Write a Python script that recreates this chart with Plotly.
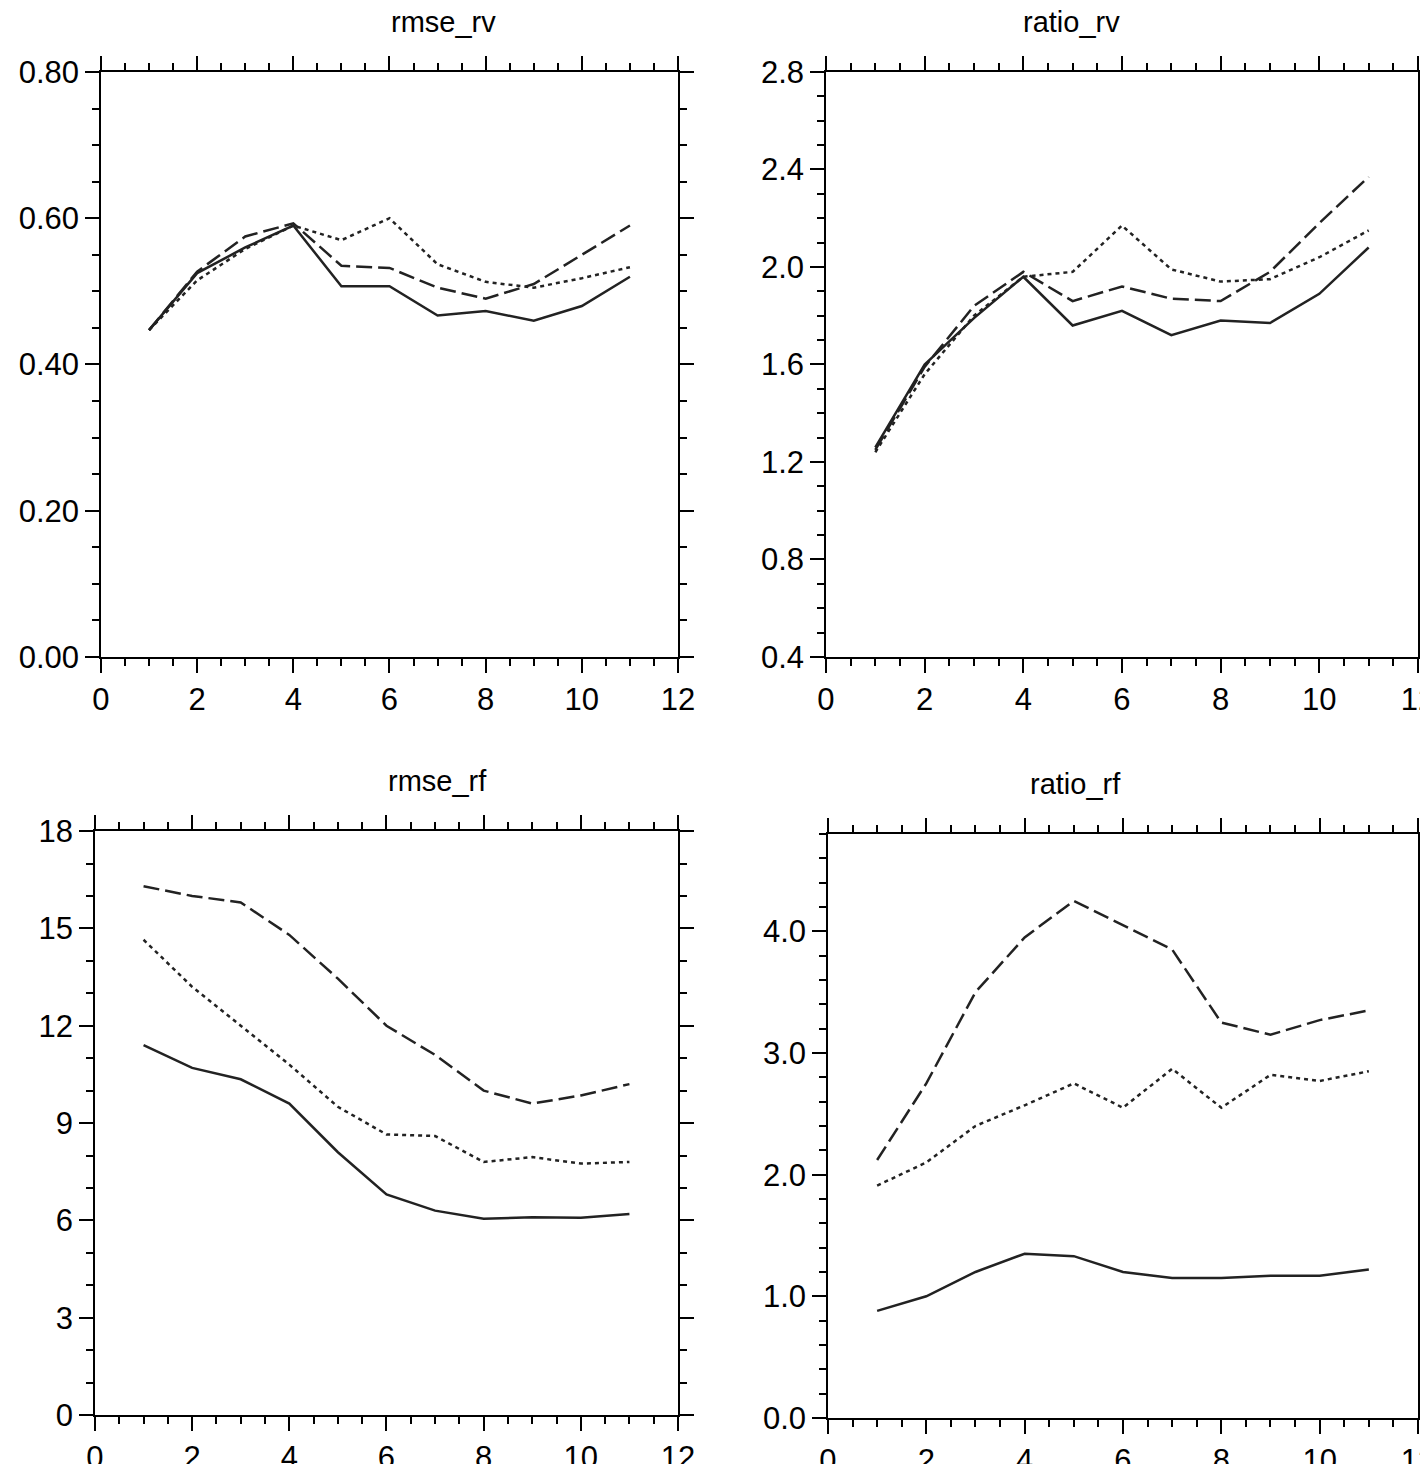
import plotly.graph_objects as go

x = list(range(1, 12))
rmse_rv = {
    "solid": [0.447,0.525,0.56,0.59,0.507,0.507,0.467,0.473,0.46,0.48,0.52],
    "dash": [0.447,0.527,0.575,0.593,0.535,0.532,0.505,0.49,0.51,0.55,0.59],
    "dot": [0.447,0.515,0.558,0.59,0.57,0.60,0.537,0.513,0.505,0.518,0.533],
}
ratio_rv = {
    "solid": [1.26,1.6,1.79,1.96,1.76,1.82,1.72,1.78,1.77,1.89,2.08],
    "dash": [1.25,1.59,1.84,1.98,1.86,1.92,1.87,1.86,1.98,2.18,2.37],
    "dot": [1.24,1.56,1.80,1.96,1.98,2.17,1.99,1.94,1.95,2.04,2.15],
}
rmse_rf = {
    "solid": [11.4,10.7,10.35,9.6,8.1,6.8,6.3,6.05,6.1,6.08,6.2],
    "dash": [16.3,16.0,15.8,14.8,13.45,12.0,11.1,10.0,9.6,9.85,10.2],
    "dot": [14.65,13.2,12.0,10.8,9.5,8.65,8.6,7.8,7.95,7.75,7.8],
}
ratio_rf = {
    "solid": [0.88,1.0,1.2,1.35,1.33,1.2,1.15,1.15,1.17,1.17,1.22],
    "dash": [2.12,2.75,3.5,3.95,4.25,4.05,3.85,3.25,3.15,3.27,3.35],
    "dot": [1.91,2.1,2.4,2.57,2.75,2.55,2.87,2.55,2.82,2.77,2.85],
}

panels = [
    ("rmse_rv", rmse_rv, [0.0651, 0.4692], [0.5567, 0.9563], [0, 0.8], 0.2, 0.05, ".2f"),
    ("ratio_rv", ratio_rv, [0.5728, 0.9874], [0.5567, 0.9563], [0.4, 2.8], 0.4, 0.1, ".1f"),
    ("rmse_rf", rmse_rf, [0.0609, 0.4692], [0.0389, 0.4378], [0, 18], 3, 1, "d"),
    ("ratio_rf", ratio_rf, [0.5742, 0.9874], [0.0369, 0.4358], [0, 4.8], 1.0, 0.2, ".1f"),
]
dashmap = {"solid": "solid", "dash": "16px,6px", "dot": "4px,4px"}

fig = go.Figure()
font = dict(family="Liberation Sans, Arial", size=31, color="black")
tfont = dict(family="Liberation Sans, Arial", size=29, color="black")
for i, (title, data, xd, yd, yr, dt, mdt, fmt) in enumerate(panels, start=1):
    xa = "x" if i == 1 else f"x{i}"
    ya = "y" if i == 1 else f"y{i}"
    for k in ["solid", "dash", "dot"]:
        fig.add_trace(go.Scatter(x=x, y=data[k], mode="lines", xaxis=xa, yaxis=ya,
                                 line=dict(color="#222", width=2.5, dash=dashmap[k]),
                                 showlegend=False))
    common = dict(showline=True, linecolor="black", linewidth=1.5, mirror="ticks",
                  ticks="outside", ticklen=14, tickwidth=1.5, tickcolor="black",
                  showgrid=False, zeroline=False, tickfont=font, automargin=False)
    fig.update_layout(**{
        ("xaxis" if i == 1 else f"xaxis{i}"): dict(domain=xd, range=[0, 12], dtick=2, tick0=0,
            anchor=ya, minor=dict(dtick=0.5, ticks="outside", ticklen=7, tickcolor="black"), **common),
        ("yaxis" if i == 1 else f"yaxis{i}"): dict(domain=yd, range=yr, dtick=dt, tick0=0,
            anchor=xa, tickformat=fmt, minor=dict(dtick=mdt, ticks="outside", ticklen=7, tickcolor="black"), **common),
    })
    fig.add_annotation(text=title, x=(xd[0] + xd[1]) / 2, y=yd[1] + 0.022, xref="paper", yref="paper",
                       showarrow=False, yanchor="bottom", font=tfont)

fig.update_layout(width=1428, height=1464, margin=dict(l=0, r=0, t=0, b=0),
                  plot_bgcolor="white", paper_bgcolor="white")
fig.write_html("out.html")
